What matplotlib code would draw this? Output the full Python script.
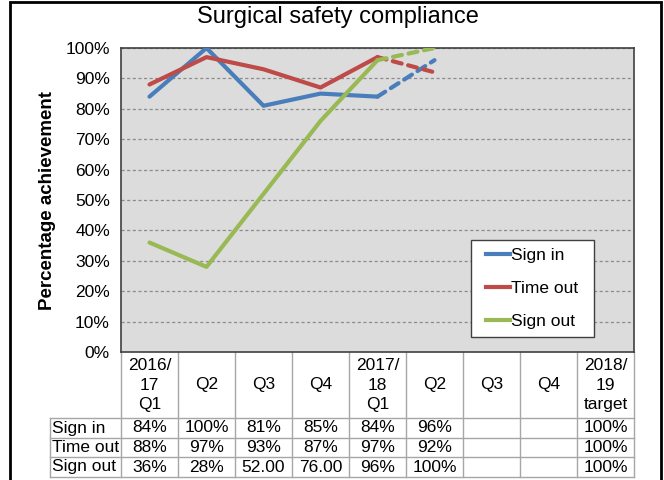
import matplotlib
matplotlib.use("Agg")
import matplotlib.pyplot as plt
from matplotlib.lines import Line2D
from matplotlib.patches import Rectangle
import matplotlib.transforms as mtransforms

plt.rcParams['font.family'] = ['Liberation Sans', 'DejaVu Sans']

categories = ["2016/\n17\nQ1", "Q2", "Q3", "Q4", "2017/\n18\nQ1", "Q2", "Q3", "Q4", "2018/\n19\ntarget"]
series_names = ["Sign in", "Time out", "Sign out"]
sign_in = [84, 100, 81, 85, 84, 96]
time_out = [88, 97, 93, 87, 97, 92]
sign_out = [36, 28, 52, 76, 96, 100]
sign_in_labels = ["84%", "100%", "81%", "85%", "84%", "96%", "", "", "100%"]
time_out_labels = ["88%", "97%", "93%", "87%", "97%", "92%", "", "", "100%"]
sign_out_labels = ["36%", "28%", "52.00", "76.00", "96%", "100%", "", "", "100%"]
colors = ["#4A7EBB", "#BE4B48", "#98B954"]
yticks = [0, 10, 20, 30, 40, 50, 60, 70, 80, 90, 100]

FS = 12.5
W, H = 664, 480
fig = plt.figure(figsize=(W / 100, H / 100), dpi=100)
ax_l, ax_r, ax_t, ax_b = 121, 634, 48, 352
ax = fig.add_axes([ax_l / W, 1 - ax_b / H, (ax_r - ax_l) / W, (ax_b - ax_t) / H])
ax.set_facecolor("#DCDCDC")
for s in ax.spines.values():
    s.set_color("#404040")
    s.set_linewidth(1.2)

def yf(py):
    return (ax_b - py) / (ax_b - ax_t)
def xf(px):
    return (px - ax_l) / (ax_r - ax_l)

n = len(categories)
ax.set_xlim(-0.5, n - 0.5)
ax.set_ylim(0, 100)
ax.set_yticks(yticks)
ax.set_yticklabels([f"{v}%" for v in yticks], fontsize=FS)
ax.tick_params(axis='y', length=0, pad=8)
ax.set_xticks([])
for v in yticks[1:]:
    ax.axhline(v, color="#8C8C8C", linestyle=(0, (2.5, 2)), linewidth=0.9, zorder=1)

all_series = [sign_in, time_out, sign_out]
handles = []
for vals, c, name in zip(all_series, colors, series_names):
    xs = list(range(len(vals)))
    ax.plot(xs[:5], vals[:5], color=c, linewidth=3, solid_capstyle='round', zorder=3)
    ax.plot(xs[4:6], vals[4:6], color=c, linewidth=3, linestyle=(0, (2.2, 1.6)),
            dash_capstyle='round', zorder=3)
    handles.append(Line2D([], [], color=c, linewidth=3, label=name))

# legend frame drawn separately
ax.add_patch(Rectangle((xf(471), yf(337)), xf(594) - xf(471), yf(240) - yf(337),
                       transform=ax.transAxes, facecolor='white', edgecolor='#404040',
                       linewidth=1.0, zorder=5))
leg = ax.legend(handles=handles, loc='upper left',
                bbox_to_anchor=(xf(486.5), yf(248)),
                fontsize=FS, frameon=False, handlelength=1.35, handletextpad=0.05,
                labelspacing=1.03, borderpad=0, borderaxespad=0)
leg.set_zorder(6)

ax.set_ylabel("Percentage achievement", fontsize=13.5, fontweight='bold')
ax.yaxis.set_label_coords((56 - ax_l) / (ax_r - ax_l), 0.5)

fig.text(338 / W, 1 - 17 / H, "Surgical safety compliance", fontsize=17, ha='center', va='center')

# table below axes (data x, axes-fraction y)
trans = mtransforms.blended_transform_factory(ax.transData, ax.transAxes)
grid_c = "#A6A6A6"
hdr_bot = 418
row_edges = [418, 438, 457, 477]
for i in range(n + 1):
    xb = i - 0.5
    ax.add_line(Line2D([xb, xb], [yf(ax_b), yf(row_edges[-1])], transform=trans,
                       color=grid_c, linewidth=1, clip_on=False))
for i, lab in enumerate(categories):
    ax.text(i, yf((ax_b + hdr_bot) / 2), lab, transform=trans, ha='center', va='center',
            fontsize=FS, linespacing=1.4, clip_on=False)
for py in row_edges:
    ax.add_line(Line2D([xf(50), 1], [yf(py), yf(py)], transform=ax.transAxes,
                       color=grid_c, linewidth=1, clip_on=False))
ax.add_line(Line2D([xf(50), xf(50)], [yf(row_edges[0]), yf(row_edges[-1])], transform=ax.transAxes,
                   color=grid_c, linewidth=1, clip_on=False))
row_labels = [sign_in_labels, time_out_labels, sign_out_labels]
for r, (name, labs) in enumerate(zip(series_names, row_labels)):
    yc = yf((row_edges[r] + row_edges[r + 1]) / 2)
    ax.text(xf(52), yc, name, transform=ax.transAxes, ha='left', va='center', fontsize=FS, clip_on=False)
    for i, t in enumerate(labs):
        ax.text(i, yc, t, transform=trans, ha='center', va='center', fontsize=FS, clip_on=False)

fig.add_artist(Rectangle((10 / W, -0.05), (661 - 10) / W, 1.05 - 2 / H, transform=fig.transFigure,
                         fill=False, edgecolor='black', linewidth=2))

fig.savefig("out.png", dpi=100)
